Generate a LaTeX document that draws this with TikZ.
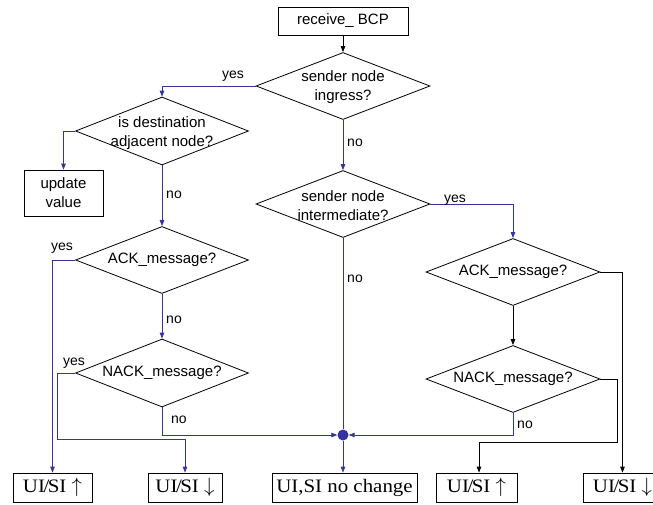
\documentclass[tikz,border=0pt]{standalone}
\usepackage{fontspec}
\setmainfont{Liberation Sans}
\newfontfamily\serifbox[FakeStretch=1.1]{Liberation Serif}
\usetikzlibrary{shapes.geometric,arrows.meta}
\definecolor{flowblue}{RGB}{52,52,160}
\newcommand{\uisi}{UI\kern-1.5pt/\kern-1.5pt SI}
\newcommand{\arrup}{\ {\fontsize{21pt}{21pt}\selectfont$\uparrow$}}
\newcommand{\arrdn}{\ {\fontsize{21pt}{21pt}\selectfont$\downarrow$}}
\tikzset{
  base/.style={line width=0.8pt},
  decision/.style={diamond,draw,base,inner sep=0pt,minimum width=174pt,minimum height=67pt},
  txt/.style={align=center,font=\fontsize{15pt}{19pt}\selectfont,inner sep=0pt},
  procbox/.style={rectangle,draw,base,inner sep=0pt,align=center,font=\fontsize{15pt}{19pt}\selectfont},
  outbox/.style={rectangle,draw,base,inner sep=0pt,minimum height=29pt,font=\serifbox\fontsize{19pt}{21pt}\selectfont},
  lbl/.style={font=\fontsize{14pt}{16pt}\selectfont,inner sep=0pt},
  bl/.style={base,draw=flowblue,-{Triangle[length=6pt,width=4.5pt]}},
  blnt/.style={base,draw=flowblue},
  blk/.style={base,draw=black,-{Triangle[length=6pt,width=4.5pt]}},
}
\begin{document}
\begin{tikzpicture}[x=1pt,y=-1pt]
\useasboundingbox (0,0) rectangle (653,504);
\clip (0,0) rectangle (653,504);

% process boxes
\node[procbox,minimum width=130pt,minimum height=28pt] (rcv) at (343,21) {receive\_ BCP};
\node[procbox,minimum width=79pt,minimum height=46pt] (upd) at (63.5,193) {update\\value};

% decisions
\node[decision] (d1) at (343,86) {};
\node[txt] (t1) at (343,87.5) {sender node\\ingress?};
\node[decision,minimum width=173pt,minimum height=68pt] (d2) at (162,131) {};
\node[txt] (t2) at (162,133) {is destination\\adjacent node?};
\node[decision,minimum width=173pt] (d3) at (162,260) {};
\node[txt] (t3) at (d3) {ACK\_message?};
\node[decision,minimum width=173pt,minimum height=68pt] (d4) at (162,373) {};
\node[txt] (t4) at (d4) {NACK\_message?};
\node[decision] (d5) at (343,204) {};
\node[txt] (t5) at (343,205.5) {sender node\\intermediate?};
\node[decision] (d6) at (513,272) {};
\node[txt] (t6) at (d6) {ACK\_message?};
\node[decision] (d7) at (513,379) {};
\node[txt] (t7) at (d7) {NACK\_message?};

% junction
\node[circle,fill=flowblue,inner sep=0pt,minimum size=11pt] (dot) at (343,435) {};

% outcome boxes
\node[outbox,minimum width=79pt] (b1) at (52.5,487.5) {\uisi\arrup};
\node[outbox,minimum width=74pt] (b2) at (185,487.5) {\uisi\arrdn};
\node[outbox,minimum width=145pt] (b3) at (344.5,487.5) {UI,SI no change};
\node[outbox,minimum width=81pt] (b4) at (476.5,487.5) {\uisi\arrup};
\node[outbox,minimum width=79pt] (b5) at (622.5,487.5) {\uisi\arrdn};

% connectors
\draw[blk] (rcv) -- (d1);
\draw[bl] (d1.west) -| (d2.north);
\draw[bl] (d2.west) -| (upd.north);
\draw[bl] (d2.south) -- (d3.north);
\draw[bl] (d3.west) -| (b1.north);
\draw[bl] (d3.south) -- (d4.north);
\draw[bl] (d4.west) -- ++(-18,0) |- ([yshift=33pt]b2.north) -- (b2.north);
\draw[bl] (d4.south) |- (dot);
\draw[bl] (d1.south) -- (d5.north);
\draw[bl] (d5.east) -| (d6.north);
\draw[blnt] (d5.south) -- (dot);
\draw[bl] (dot) -- (dot |- b3.north);
\draw[blk] (d6.east) -| (b5.north);
\draw[blk] (d6.south) -- (d7.north);
\draw[blk] (d7.east) -- ++(17,0) |- ([xshift=2.5pt,yshift=30pt]b4.north) -- ([xshift=2.5pt]b4.north);
\draw[bl] (d7.south) |- (dot);

% branch labels
\node[lbl] (l1) at (233,76) {yes};
\node[lbl] (l2) at (174,195) {no};
\node[lbl] (l3) at (62,248) {yes};
\node[lbl] (l4) at (174,320) {no};
\node[lbl] (l5) at (74,363) {yes};
\node[lbl] (l6) at (179,420) {no};
\node[lbl] (l7) at (355,143) {no};
\node[lbl] (l8) at (455,200) {yes};
\node[lbl] (l9) at (355,279) {no};
\node[lbl] (l10) at (525,425) {no};
\end{tikzpicture}
\end{document}
